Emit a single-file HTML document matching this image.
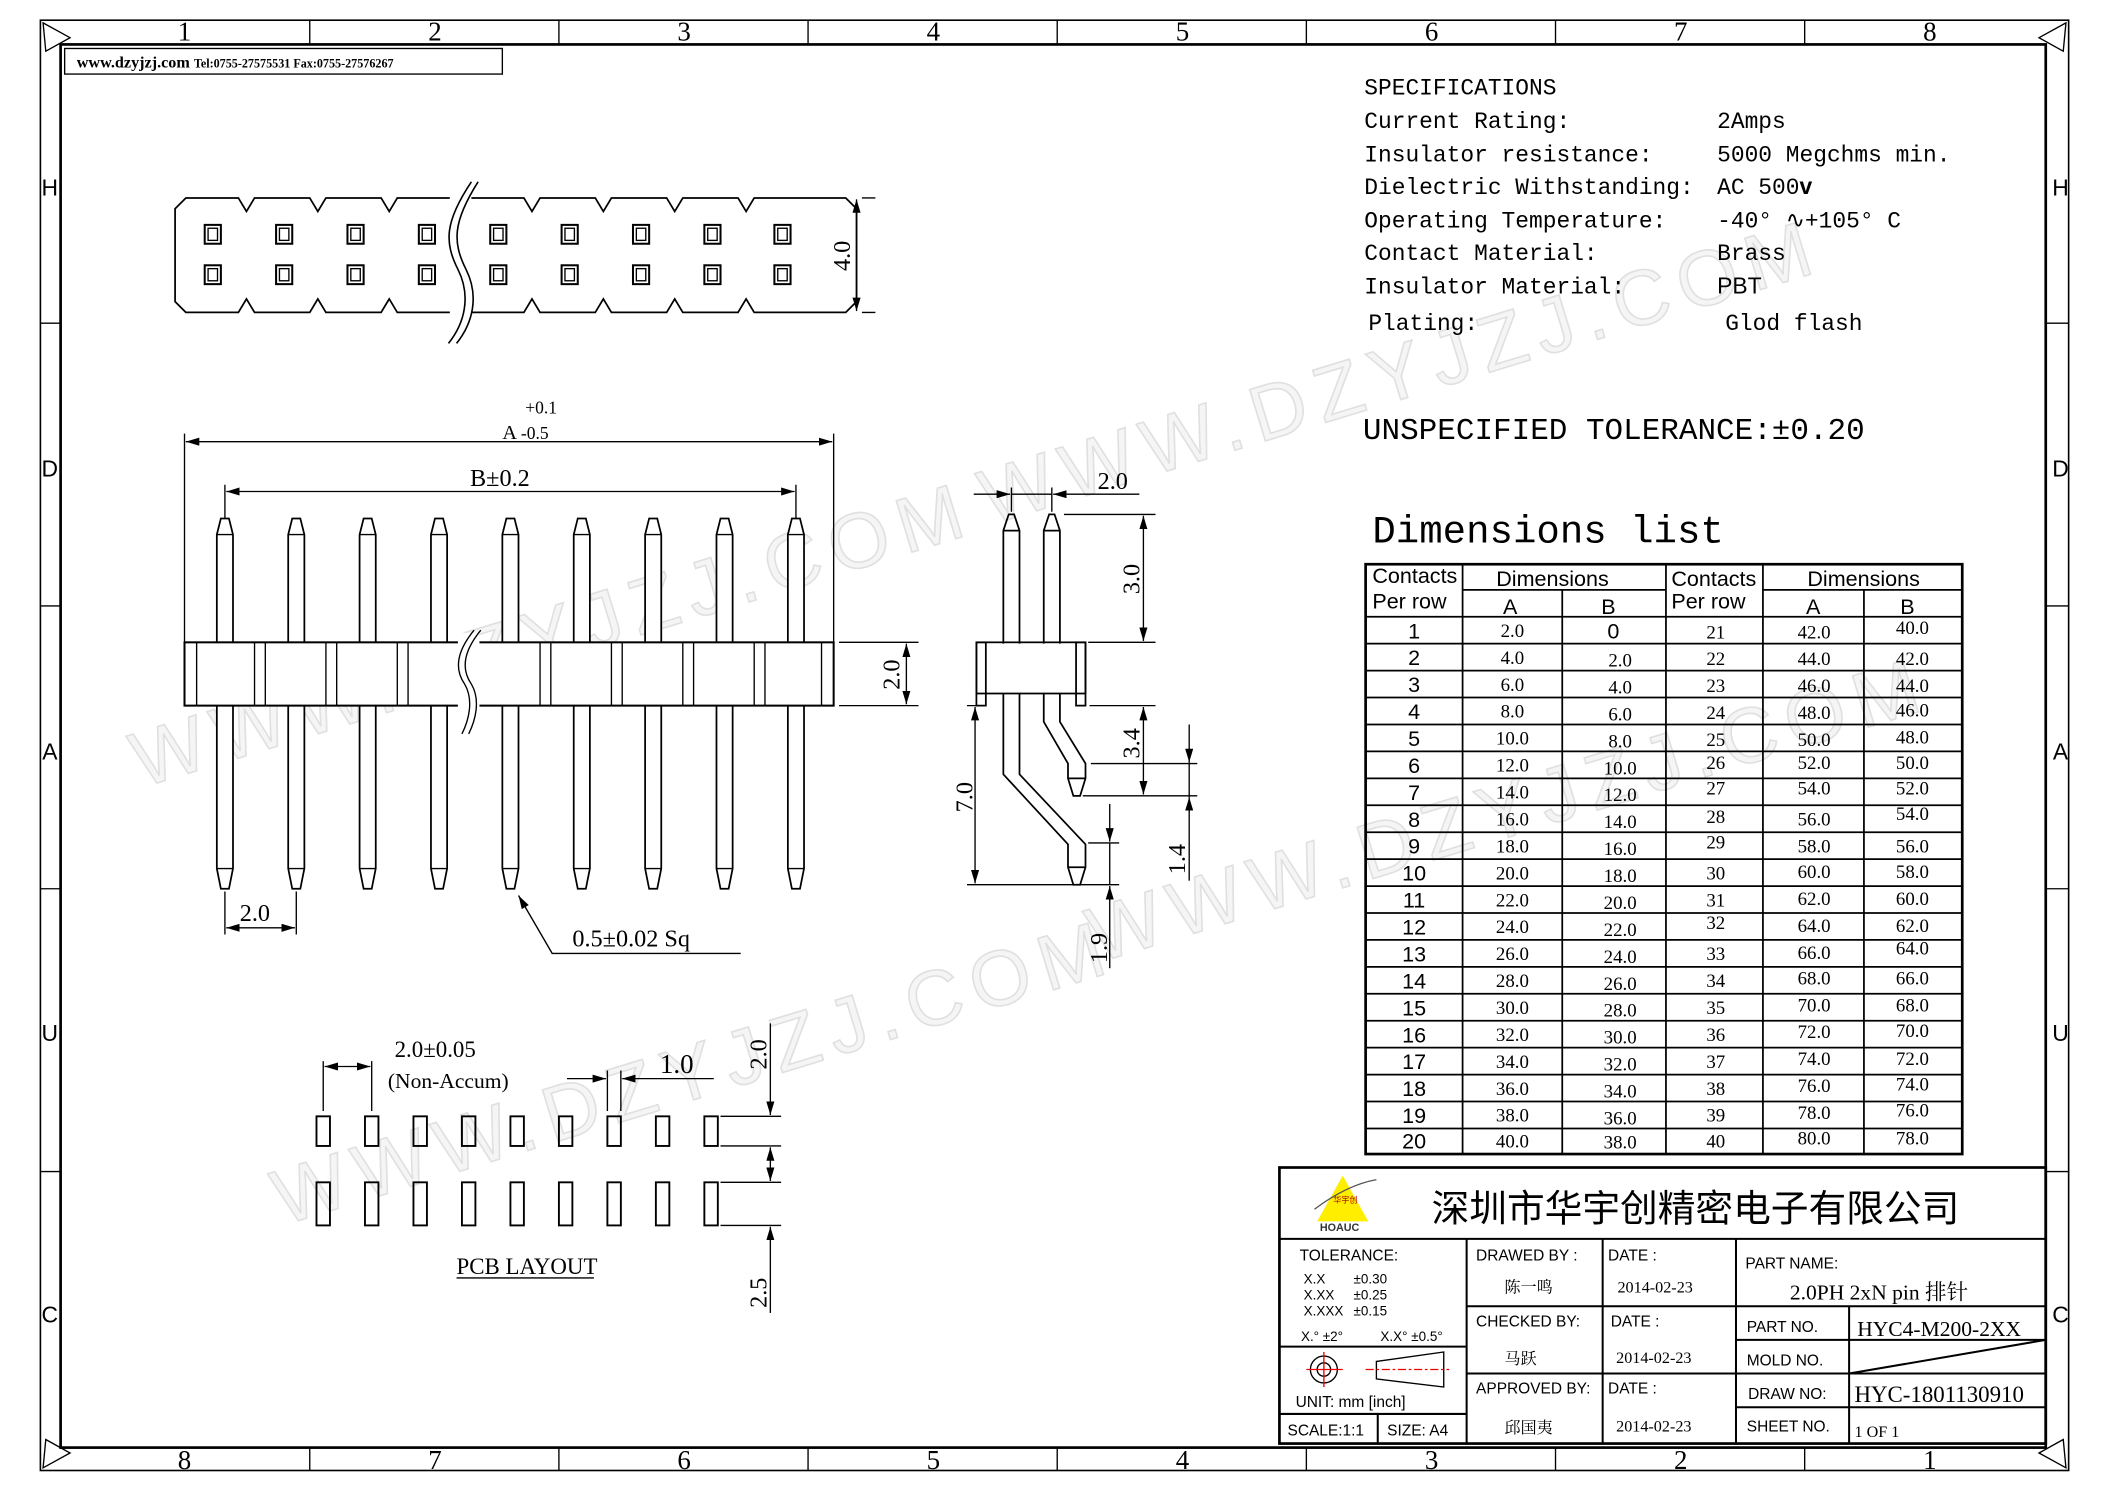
<!DOCTYPE html>
<html><head><meta charset="utf-8"><style>
html,body{margin:0;padding:0;background:#fff;}
svg{display:block;}
.s{font-family:"Liberation Serif","Noto Serif CJK SC",serif;}
.m{font-family:"Liberation Mono","Noto Sans CJK SC",monospace;}
.a{font-family:"Liberation Sans","Noto Sans CJK SC",sans-serif;}
</style></head><body>
<svg width="2105" height="1488" viewBox="0 0 1563 1105" preserveAspectRatio="none" xmlns="http://www.w3.org/2000/svg">
<defs>
<marker id="ar" viewBox="0 0 10 6" refX="10" refY="3" markerWidth="10" markerHeight="6" markerUnits="userSpaceOnUse" orient="auto-start-reverse"><path d="M0,0 L10,3 L0,6 Z" fill="#000"/></marker>
<g id="pin"><path d="M-6,397 L-3,385 L3,385 L6,397 L6,645 L3,660 L-3,660 L-6,645 Z" fill="#fff" stroke="#000" stroke-width="1.3"/><line x1="-6" y1="397" x2="6" y2="397" stroke="#000"/><line x1="-6" y1="645" x2="6" y2="645" stroke="#000"/></g>
<g id="pad"><rect x="-6" y="-7" width="12" height="14" fill="none" stroke="#000" stroke-width="1.5"/><rect x="-3.5" y="-4.5" width="7" height="9" fill="none" stroke="#000"/></g>
</defs>
<!-- watermarks -->
<g class="a" font-size="58" fill="#f5f5f5" stroke="#e0e0e0" stroke-width="1.2" letter-spacing="8">
<text transform="translate(105,585) rotate(-17)">WWW.DZYJZJ.COM</text>
<text transform="translate(735,390) rotate(-17)">WWW.DZYJZJ.COM</text>
<text transform="translate(210,910) rotate(-17)">WWW.DZYJZJ.COM</text>
<text transform="translate(815,715) rotate(-17)">WWW.DZYJZJ.COM</text>
</g>
<!-- frame -->
<g fill="none" stroke="#000">
<rect x="30" y="15" width="1506" height="1077" stroke-width="1.2"/>
<rect x="45" y="33" width="1474" height="1042" stroke-width="2"/>
<path d="M230,15V33 M415,15V33 M600,15V33 M785,15V33 M970,15V33 M1155,15V33 M1340,15V33 M230,1075V1092 M415,1075V1092 M600,1075V1092 M785,1075V1092 M970,1075V1092 M1155,1075V1092 M1340,1075V1092 M30,240H45 M30,450H45 M30,660H45 M30,870H45 M1519,240H1536 M1519,450H1536 M1519,660H1536 M1519,870H1536"/>
<path d="M32,17 L52,28 L34,38 Z M1534,17 L1514,28 L1532,38 Z M32,1090 L52,1079 L34,1069 Z M1534,1090 L1514,1079 L1532,1069 Z"/>
</g>
<g class="s" font-size="20" text-anchor="middle">
<text x="137" y="30">1</text><text x="323" y="30">2</text><text x="508" y="30">3</text><text x="693" y="30">4</text><text x="878" y="30">5</text><text x="1063" y="30">6</text><text x="1248" y="30">7</text><text x="1433" y="30">8</text>
<text x="137" y="1091">8</text><text x="323" y="1091">7</text><text x="508" y="1091">6</text><text x="693" y="1091">5</text><text x="878" y="1091">4</text><text x="1063" y="1091">3</text><text x="1248" y="1091">2</text><text x="1433" y="1091">1</text>
</g>
<g class="a" font-size="17" text-anchor="middle">
<text x="37" y="145">H</text><text x="37" y="354">D</text><text x="37" y="564">A</text><text x="37" y="773">U</text><text x="37" y="982">C</text>
<text x="1530" y="145">H</text><text x="1530" y="354">D</text><text x="1530" y="564">A</text><text x="1530" y="773">U</text><text x="1530" y="982">C</text>
</g>
<rect x="48" y="36" width="325" height="19" fill="none" stroke="#000"/>
<text x="57" y="50" class="s" font-size="12" font-weight="bold">www.dzyjzj.com <tspan font-size="9">Tel:0755-27575531  Fax:0755-27576267</tspan></text>

<!-- top view -->
<path d="M130,155 L138,147 L177,147 L183,157 L189,147 L230,147 L236,157 L242,147 L283,147 L289,157 L295,147 L389,147 L395,157 L401,147 L442,147 L448,157 L454,147 L495,147 L501,157 L507,147 L548,147 L554,157 L560,147 L628,147 L636,155 L636,224 L628,232 L560,232 L554,222 L548,232 L507,232 L501,222 L495,232 L454,232 L448,222 L442,232 L401,232 L395,222 L389,232 L295,232 L289,222 L283,232 L242,232 L236,222 L230,232 L189,232 L183,222 L177,232 L138,232 L130,224 Z" fill="none" stroke="#000" stroke-width="1.3"/>
<rect x="334" y="140" width="16" height="100" fill="#fff"/>
<path d="M350,135 C330,165 330,180 340,200 C350,220 345,240 333,255 M355,135 C336,165 336,180 346,200 C356,220 351,240 339,255" fill="none" stroke="#000" stroke-width="1.2"/>
<g>
<use href="#pad" x="158" y="174"/><use href="#pad" x="211" y="174"/><use href="#pad" x="264" y="174"/><use href="#pad" x="317" y="174"/><use href="#pad" x="370" y="174"/><use href="#pad" x="423" y="174"/><use href="#pad" x="476" y="174"/><use href="#pad" x="529" y="174"/><use href="#pad" x="581" y="174"/>
<use href="#pad" x="158" y="204"/><use href="#pad" x="211" y="204"/><use href="#pad" x="264" y="204"/><use href="#pad" x="317" y="204"/><use href="#pad" x="370" y="204"/><use href="#pad" x="423" y="204"/><use href="#pad" x="476" y="204"/><use href="#pad" x="529" y="204"/><use href="#pad" x="581" y="204"/>
</g>
<path d="M640,147H650 M640,232H650" stroke="#000"/>
<line x1="636" y1="148" x2="636" y2="231" stroke="#000" marker-start="url(#ar)" marker-end="url(#ar)"/>
<text transform="translate(631,190) rotate(-90)" class="s" font-size="18" text-anchor="middle">4.0</text>

<!-- side view -->
<g>
<use href="#pin" x="167"/><use href="#pin" x="220"/><use href="#pin" x="273"/><use href="#pin" x="326"/><use href="#pin" x="379"/><use href="#pin" x="432"/><use href="#pin" x="485"/><use href="#pin" x="538"/><use href="#pin" x="591"/>
</g>
<rect x="137" y="477" width="482" height="47" fill="#fff" stroke="#000" stroke-width="1.5"/>
<path d="M146,477V524 M189,477V524 M197,477V524 M242,477V524 M250,477V524 M295,477V524 M303,477V524 M401,477V524 M409,477V524 M454,477V524 M462,477V524 M507,477V524 M515,477V524 M560,477V524 M568,477V524 M610,477V524" stroke="#000"/>
<rect x="340" y="470" width="16" height="72" fill="#fff"/>
<path d="M352,468 C338,485 338,498 345,508 C352,520 348,535 343,545 M357,468 C343,485 343,498 350,508 C357,520 353,535 348,545" fill="none" stroke="#000"/>
<path d="M137,322V477 M619,322V477 M167,360V385 M591,360V385" stroke="#000"/>
<line x1="138" y1="328" x2="618" y2="328" stroke="#000" marker-start="url(#ar)" marker-end="url(#ar)"/>
<line x1="168" y1="365" x2="590" y2="365" stroke="#000" marker-start="url(#ar)" marker-end="url(#ar)"/>
<text x="390" y="307" class="s" font-size="13">+0.1</text>
<text x="373" y="326" class="s" font-size="15">A <tspan font-size="13">-0.5</tspan></text>
<text x="349" y="361" class="s" font-size="18">B±0.2</text>
<path d="M623,477H682 M623,524H682" stroke="#000"/>
<line x1="673" y1="478" x2="673" y2="523" stroke="#000" marker-start="url(#ar)" marker-end="url(#ar)"/>
<text transform="translate(668,501) rotate(-90)" class="s" font-size="18" text-anchor="middle">2.0</text>
<path d="M167,662V694 M220,662V694" stroke="#000"/>
<line x1="168" y1="689" x2="219" y2="689" stroke="#000" marker-start="url(#ar)" marker-end="url(#ar)"/>
<text x="178" y="684" class="s" font-size="18">2.0</text>
<path d="M385,665 L410,708 L550,708" fill="none" stroke="#000" marker-start="url(#ar)"/>
<text x="425" y="703" class="s" font-size="18">0.5±0.02 Sq</text>

<!-- end view -->
<g fill="none" stroke="#000" stroke-width="1.3">
<path d="M745,478 V394 L749,382 L753,382 L757,394 V478"/><line x1="745" y1="394" x2="757" y2="394"/>
<path d="M775,478 V394 L779,382 L783,382 L787,394 V478"/><line x1="775" y1="394" x2="787" y2="394"/>
<rect x="725" y="477" width="81" height="38"/>
<rect x="725" y="477" width="7" height="47"/><rect x="799" y="477" width="7" height="47"/>
<path d="M745,515 V575 L793,627 V644 L797,657 L802,657 L806,644 V627 L757,575 V515"/><line x1="793" y1="644" x2="806" y2="644"/>
<path d="M775,515 V536 L793,567 V578 L797,591 L802,591 L806,578 V567 L787,536 V515"/><line x1="793" y1="578" x2="806" y2="578"/>
</g>
<path d="M751,362V380 M781,362V380 M790,382H858 M808,477H858 M809,524H858 M718,524H727 M718,657H831 M810,567H889 M804,591H889 M808,626H831" stroke="#000"/>
<line x1="723" y1="367" x2="750" y2="367" stroke="#000" marker-end="url(#ar)"/>
<line x1="846" y1="367" x2="782" y2="367" stroke="#000" marker-end="url(#ar)"/>
<line x1="751" y1="367" x2="781" y2="367" stroke="#000"/>
<text x="815" y="363" class="s" font-size="18">2.0</text>
<line x1="849" y1="383" x2="849" y2="476" stroke="#000" marker-start="url(#ar)" marker-end="url(#ar)"/>
<text transform="translate(846,430) rotate(-90)" class="s" font-size="18" text-anchor="middle">3.0</text>
<line x1="724" y1="525" x2="724" y2="656" stroke="#000" marker-start="url(#ar)" marker-end="url(#ar)"/>
<text transform="translate(722,592) rotate(-90)" class="s" font-size="18" text-anchor="middle">7.0</text>
<line x1="849" y1="525" x2="849" y2="590" stroke="#000" marker-start="url(#ar)" marker-end="url(#ar)"/>
<text transform="translate(846,552) rotate(-90)" class="s" font-size="18" text-anchor="middle">3.4</text>
<line x1="883" y1="538" x2="883" y2="566" stroke="#000" marker-end="url(#ar)"/>
<line x1="883" y1="654" x2="883" y2="592" stroke="#000" marker-end="url(#ar)"/>
<line x1="883" y1="566" x2="883" y2="592" stroke="#000"/>
<text transform="translate(880,638) rotate(-90)" class="s" font-size="18" text-anchor="middle">1.4</text>
<line x1="824" y1="597" x2="824" y2="625" stroke="#000" marker-end="url(#ar)"/>
<line x1="824" y1="719" x2="824" y2="658" stroke="#000" marker-end="url(#ar)"/>
<line x1="824" y1="626" x2="824" y2="657" stroke="#000"/>
<text transform="translate(822,704) rotate(-90)" class="s" font-size="18" text-anchor="middle">1.9</text>

<!-- PCB layout -->
<g fill="none" stroke="#000" stroke-width="1.4">
<rect x="235" y="829" width="10" height="22"/><rect x="271" y="829" width="10" height="22"/><rect x="307" y="829" width="10" height="22"/><rect x="343" y="829" width="10" height="22"/><rect x="379" y="829" width="10" height="22"/><rect x="415" y="829" width="10" height="22"/><rect x="451" y="829" width="10" height="22"/><rect x="487" y="829" width="10" height="22"/><rect x="523" y="829" width="10" height="22"/>
<rect x="235" y="878" width="10" height="32"/><rect x="271" y="878" width="10" height="32"/><rect x="307" y="878" width="10" height="32"/><rect x="343" y="878" width="10" height="32"/><rect x="379" y="878" width="10" height="32"/><rect x="415" y="878" width="10" height="32"/><rect x="451" y="878" width="10" height="32"/><rect x="487" y="878" width="10" height="32"/><rect x="523" y="878" width="10" height="32"/>
</g>
<path d="M240,788V825 M276,788V825 M451,795V825 M461,795V825 M535,829H580 M535,851H580 M535,878H580 M535,910H580" stroke="#000"/>
<line x1="241" y1="792" x2="275" y2="792" stroke="#000" marker-start="url(#ar)" marker-end="url(#ar)"/>
<line x1="421" y1="801" x2="450" y2="801" stroke="#000" marker-end="url(#ar)"/>
<line x1="530" y1="801" x2="462" y2="801" stroke="#000" marker-end="url(#ar)"/>
<text x="293" y="785" class="s" font-size="17">2.0±0.05</text>
<text x="288" y="808" class="s" font-size="16">(Non-Accum)</text>
<text x="490" y="797" class="s" font-size="20">1.0</text>
<line x1="572" y1="760" x2="572" y2="828" stroke="#000" marker-end="url(#ar)"/>
<line x1="572" y1="852" x2="572" y2="877" stroke="#000" marker-start="url(#ar)" marker-end="url(#ar)"/>
<line x1="572" y1="975" x2="572" y2="911" stroke="#000" marker-end="url(#ar)"/>
<text transform="translate(569,783) rotate(-90)" class="s" font-size="18" text-anchor="middle">2.0</text>
<text transform="translate(569,960) rotate(-90)" class="s" font-size="18" text-anchor="middle">2.5</text>
<text x="339" y="946" class="s" font-size="17">PCB LAYOUT</text>
<line x1="339" y1="949" x2="441" y2="949" stroke="#000"/>

<!-- specs -->
<g class="m" font-size="17">
<text x="1013" y="70">SPECIFICATIONS</text>
<text x="1013" y="95">Current Rating:</text><text x="1275" y="95">2Amps</text>
<text x="1013" y="120">Insulator resistance:</text><text x="1275" y="120">5000 Megchms min.</text>
<text x="1013" y="144">Dielectric Withstanding:</text><text x="1275" y="144">AC 500<tspan class="a" font-weight="bold">v</tspan></text>
<text x="1013" y="169">Operating Temperature:</text><text x="1275" y="169">-40° ∿+105° C</text>
<text x="1013" y="193">Contact Material:</text><text x="1275" y="193">Brass</text>
<text x="1013" y="218">Insulator Material:</text><text x="1275" y="218" class="a">PBT</text>
<text x="1016" y="245">Plating:</text><text x="1281" y="245">Glod flash</text>
</g>
<text x="1012" y="326" class="m" font-size="23">UNSPECIFIED TOLERANCE:±0.20</text>
<text x="1019" y="403" class="m" font-size="29">Dimensions list</text>

<!-- table -->
<g stroke="#000" stroke-width="1.3" fill="none">
<rect x="1014" y="419" width="443" height="438" stroke-width="2"/>
<path d="M1086,419V857 M1160,438V857 M1237,419V857 M1309,419V857 M1384,438V857 M1086,438H1237 M1309,438H1457 M1014,458H1457 M1014,478H1457 M1014,498H1457 M1014,518H1457 M1014,538H1457 M1014,558H1457 M1014,578H1457 M1014,598H1457 M1014,618H1457 M1014,638H1457 M1014,658H1457 M1014,678H1457 M1014,698H1457 M1014,718H1457 M1014,738H1457 M1014,758H1457 M1014,778H1457 M1014,798H1457 M1014,818H1457 M1014,838H1457"/>
</g>
<g class="a" font-size="16">
<text x="1019" y="433">Contacts</text><text x="1019" y="452">Per row</text>
<text x="1111" y="435">Dimensions</text><text x="1116" y="456">A</text><text x="1189" y="456">B</text>
<text x="1241" y="435">Contacts</text><text x="1241" y="452">Per row</text>
<text x="1342" y="435">Dimensions</text><text x="1341" y="456">A</text><text x="1411" y="456">B</text>
</g>
<g class="a" font-size="16" text-anchor="middle">
<text x="1050" y="474">1</text><text x="1050" y="494">2</text><text x="1050" y="514">3</text><text x="1050" y="534">4</text><text x="1050" y="554">5</text><text x="1050" y="574">6</text><text x="1050" y="594">7</text><text x="1050" y="614">8</text><text x="1050" y="634">9</text><text x="1050" y="654">10</text><text x="1050" y="674">11</text><text x="1050" y="694">12</text><text x="1050" y="714">13</text><text x="1050" y="734">14</text><text x="1050" y="754">15</text><text x="1050" y="774">16</text><text x="1050" y="794">17</text><text x="1050" y="814">18</text><text x="1050" y="834">19</text><text x="1050" y="853">20</text>
</g>
<g class="s" font-size="14" text-anchor="middle">
<text x="1123" y="473">2.0</text><text x="1123" y="493">4.0</text><text x="1123" y="513">6.0</text><text x="1123" y="533">8.0</text><text x="1123" y="553">10.0</text><text x="1123" y="573">12.0</text><text x="1123" y="593">14.0</text><text x="1123" y="613">16.0</text><text x="1123" y="633">18.0</text><text x="1123" y="653">20.0</text><text x="1123" y="673">22.0</text><text x="1123" y="693">24.0</text><text x="1123" y="713">26.0</text><text x="1123" y="733">28.0</text><text x="1123" y="753">30.0</text><text x="1123" y="773">32.0</text><text x="1123" y="793">34.0</text><text x="1123" y="813">36.0</text><text x="1123" y="833">38.0</text><text x="1123" y="852">40.0</text>
<text x="1198" y="474" class="a" font-size="16">0</text><text x="1203" y="495">2.0</text><text x="1203" y="515">4.0</text><text x="1203" y="535">6.0</text><text x="1203" y="555">8.0</text><text x="1203" y="575">10.0</text><text x="1203" y="595">12.0</text><text x="1203" y="615">14.0</text><text x="1203" y="635">16.0</text><text x="1203" y="655">18.0</text><text x="1203" y="675">20.0</text><text x="1203" y="695">22.0</text><text x="1203" y="715">24.0</text><text x="1203" y="735">26.0</text><text x="1203" y="755">28.0</text><text x="1203" y="775">30.0</text><text x="1203" y="795">32.0</text><text x="1203" y="815">34.0</text><text x="1203" y="835">36.0</text><text x="1203" y="853">38.0</text>
<text x="1274" y="474">21</text><text x="1274" y="494">22</text><text x="1274" y="514">23</text><text x="1274" y="534">24</text><text x="1274" y="554">25</text><text x="1274" y="571">26</text><text x="1274" y="590">27</text><text x="1274" y="611">28</text><text x="1274" y="630">29</text><text x="1274" y="653">30</text><text x="1274" y="673">31</text><text x="1274" y="690">32</text><text x="1274" y="713">33</text><text x="1274" y="733">34</text><text x="1274" y="753">35</text><text x="1274" y="773">36</text><text x="1274" y="793">37</text><text x="1274" y="813">38</text><text x="1274" y="833">39</text><text x="1274" y="852">40</text>
<text x="1347" y="474">42.0</text><text x="1347" y="494">44.0</text><text x="1347" y="514">46.0</text><text x="1347" y="534">48.0</text><text x="1347" y="554">50.0</text><text x="1347" y="571">52.0</text><text x="1347" y="590">54.0</text><text x="1347" y="613">56.0</text><text x="1347" y="633">58.0</text><text x="1347" y="652">60.0</text><text x="1347" y="672">62.0</text><text x="1347" y="692">64.0</text><text x="1347" y="712">66.0</text><text x="1347" y="731">68.0</text><text x="1347" y="751">70.0</text><text x="1347" y="771">72.0</text><text x="1347" y="791">74.0</text><text x="1347" y="811">76.0</text><text x="1347" y="831">78.0</text><text x="1347" y="850">80.0</text>
<text x="1420" y="471">40.0</text><text x="1420" y="494">42.0</text><text x="1420" y="514">44.0</text><text x="1420" y="532">46.0</text><text x="1420" y="552">48.0</text><text x="1420" y="571">50.0</text><text x="1420" y="590">52.0</text><text x="1420" y="609">54.0</text><text x="1420" y="633">56.0</text><text x="1420" y="652">58.0</text><text x="1420" y="672">60.0</text><text x="1420" y="692">62.0</text><text x="1420" y="709">64.0</text><text x="1420" y="731">66.0</text><text x="1420" y="751">68.0</text><text x="1420" y="770">70.0</text><text x="1420" y="791">72.0</text><text x="1420" y="810">74.0</text><text x="1420" y="829">76.0</text><text x="1420" y="850">78.0</text>
</g>

<!-- title block -->
<g fill="none" stroke="#000" stroke-width="1.5">
<rect x="950" y="867" width="569" height="205" stroke-width="2"/>
<path d="M950,920H1519 M1089,920V1072 M1190,920V1072 M1289,920V1072 M1089,970H1289 M1089,1020H1289 M1289,970H1519 M1289,995H1519 M1289,1020H1519 M1289,1045H1519 M1373,970V1072 M950,1000H1089 M950,1050H1089 M1023,1050V1072 M1373,1020 L1519,995"/>
</g>
<path d="M997,873 L978,907 L1016,907 Z" fill="#ffee00"/>
<path d="M976,898 Q1000,880 1022,876" fill="none" stroke="#555"/>
<text x="990" y="893" font-size="6" class="a" fill="#a00">华宇创</text>
<text x="980" y="914" class="a" font-size="8" font-weight="bold" fill="#333">HOAUC</text>
<text x="1063" y="907" class="a" font-size="28">深圳市华宇创精密电子有限公司</text>
<g class="a" font-size="11.5">
<text x="965" y="936">TOLERANCE:</text>
<text x="968" y="953" font-size="10">X.X</text><text x="1005" y="953" font-size="10">±0.30</text>
<text x="968" y="965" font-size="10">X.XX</text><text x="1005" y="965" font-size="10">±0.25</text>
<text x="968" y="977" font-size="10">X.XXX</text><text x="1005" y="977" font-size="10">±0.15</text>
<text x="966" y="996" font-size="10">X.° ±2°</text><text x="1025" y="996" font-size="10">X.X° ±0.5°</text>
<text x="962" y="1045">UNIT:  mm  [inch]</text>
<text x="956" y="1066">SCALE:1:1</text><text x="1030" y="1066">SIZE:  A4</text>
<text x="1096" y="936">DRAWED  BY :</text><text x="1194" y="936">DATE  :</text>
<text x="1096" y="985">CHECKED  BY:</text><text x="1196" y="985">DATE  :</text>
<text x="1096" y="1035">APPROVED  BY:</text><text x="1194" y="1035">DATE  :</text>
<text x="1296" y="942">PART  NAME:</text>
<text x="1297" y="989">PART  NO.</text><text x="1297" y="1014">MOLD  NO.</text><text x="1298" y="1039">DRAW  NO:</text><text x="1297" y="1063">SHEET  NO.</text>
</g>
<g class="s" font-size="12">
<text x="1117" y="960">陈一鸣</text><text x="1201" y="960">2014-02-23</text>
<text x="1117" y="1013">马跃</text><text x="1200" y="1012">2014-02-23</text>
<text x="1117" y="1064">邱国夷</text><text x="1200" y="1063">2014-02-23</text>
<text x="1329" y="965" font-size="16">2.0PH 2xN pin  排针</text>
<text x="1379" y="992" font-size="16">HYC4-M200-2XX</text>
<text x="1377" y="1041" font-size="17">HYC-1801130910</text>
<text x="1377" y="1067" font-size="12">1 OF 1</text>
</g>
<g fill="none" stroke="#000">
<circle cx="983" cy="1017" r="10"/><circle cx="983" cy="1017" r="5"/>
<path d="M970,1017H997 M983,1004V1030" stroke="#e00"/>
<path d="M1022,1011 L1072,1004 L1072,1030 L1022,1024 Z"/>
<path d="M1014,1017H1076" stroke="#e00" stroke-dasharray="6,2,2,2"/>
</g>
</svg>
</body></html>
